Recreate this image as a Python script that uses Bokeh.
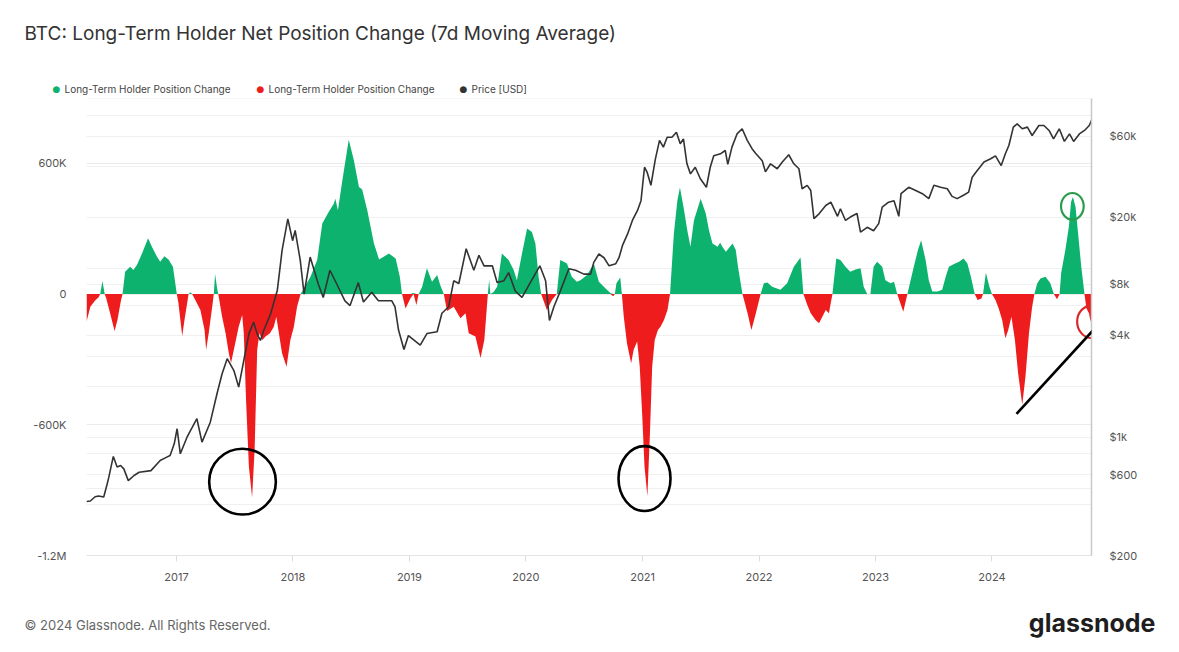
import pandas as pd
from bokeh.plotting import figure
from bokeh.models import (Range1d, LogScale, LogAxis, FixedTicker, Grid, Label,
                          Arrow, ColumnDataSource, DatetimeTickFormatter)
from bokeh.embed import file_html
from bokeh.resources import INLINE

# ---------------- data ----------------
lth_dates = [
    "2016-03-25", "2016-04-06", "2016-04-21", "2016-05-02", "2016-05-07", "2016-05-14", "2016-05-21",
    "2016-05-26", "2016-06-07", "2016-06-21", "2016-06-30", "2016-07-11", "2016-07-16", "2016-07-24",
    "2016-08-09", "2016-08-19", "2016-08-30", "2016-09-15", "2016-10-04", "2016-10-16", "2016-11-01",
    "2016-11-11", "2016-11-24", "2016-12-07", "2016-12-21", "2017-01-02", "2017-01-07", "2017-01-19",
    "2017-01-26", "2017-02-08", "2017-02-14", "2017-02-19", "2017-03-01", "2017-03-17", "2017-03-30",
    "2017-04-04", "2017-04-12", "2017-04-23", "2017-04-28", "2017-05-02", "2017-05-09", "2017-05-12",
    "2017-05-24", "2017-06-04", "2017-06-14", "2017-06-21", "2017-07-02", "2017-07-15", "2017-07-26",
    "2017-07-31", "2017-08-07", "2017-08-16", "2017-08-26", "2017-09-03", "2017-09-11", "2017-09-18",
    "2017-09-27", "2017-10-07", "2017-10-21", "2017-11-02", "2017-11-10", "2017-11-18", "2017-11-28",
    "2017-12-12", "2017-12-24", "2018-01-04", "2018-01-14", "2018-01-25", "2018-02-25", "2018-03-18",
    "2018-04-03", "2018-04-23", "2018-05-09", "2018-05-14", "2018-05-22", "2018-06-05", "2018-06-25",
    "2018-07-11", "2018-07-27", "2018-08-06", "2018-08-22", "2018-09-12", "2018-09-28", "2018-10-29",
    "2018-11-19", "2018-12-02", "2018-12-09", "2018-12-20", "2019-01-04", "2019-01-14", "2019-01-23",
    "2019-01-30", "2019-02-10", "2019-02-25", "2019-03-13", "2019-03-29", "2019-04-08", "2019-04-19",
    "2019-04-29", "2019-05-20", "2019-06-10", "2019-06-26", "2019-07-06", "2019-07-27", "2019-08-12",
    "2019-08-24", "2019-09-04", "2019-09-08", "2019-09-12", "2019-09-22", "2019-10-03", "2019-10-18",
    "2019-11-08", "2019-11-24", "2019-12-04", "2019-12-20", "2020-01-05", "2020-01-20", "2020-01-31",
    "2020-02-10", "2020-02-18", "2020-03-07", "2020-03-23", "2020-04-07", "2020-04-18", "2020-05-09",
    "2020-05-24", "2020-06-09", "2020-06-20", "2020-07-11", "2020-08-01", "2020-08-17", "2020-09-07",
    "2020-09-22", "2020-10-01", "2020-10-06", "2020-10-11", "2020-10-23", "2020-10-28", "2020-11-03",
    "2020-11-13", "2020-11-26", "2020-12-04", "2020-12-15", "2020-12-23", "2020-12-31", "2021-01-07",
    "2021-01-16", "2021-01-24", "2021-01-31", "2021-02-08", "2021-02-18", "2021-02-26", "2021-03-09",
    "2021-03-20", "2021-03-28", "2021-04-09", "2021-04-20", "2021-04-28", "2021-05-11", "2021-05-21",
    "2021-05-31", "2021-06-11", "2021-07-02", "2021-07-18", "2021-07-28", "2021-08-08", "2021-08-24",
    "2021-09-01", "2021-09-08", "2021-09-19", "2021-10-10", "2021-10-20", "2021-10-27", "2021-11-10",
    "2021-11-15", "2021-11-26", "2021-12-08", "2021-12-22", "2022-01-06", "2022-01-16", "2022-01-27",
    "2022-02-11", "2022-03-09", "2022-03-30", "2022-04-20", "2022-05-11", "2022-05-20", "2022-06-01",
    "2022-06-12", "2022-06-27", "2022-07-08", "2022-07-29", "2022-08-08", "2022-08-19", "2022-08-31",
    "2022-09-13", "2022-09-29", "2022-10-14", "2022-10-30", "2022-11-15", "2022-11-25", "2022-12-06",
    "2022-12-16", "2022-12-26", "2023-01-06", "2023-01-22", "2023-02-01", "2023-02-17", "2023-02-28",
    "2023-03-10", "2023-03-29", "2023-04-11", "2023-05-01", "2023-05-14", "2023-05-24", "2023-06-07",
    "2023-06-17", "2023-06-28", "2023-07-14", "2023-07-29", "2023-08-09", "2023-08-19", "2023-09-04",
    "2023-09-20", "2023-10-04", "2023-10-16", "2023-10-27", "2023-11-08", "2023-11-17", "2023-11-29",
    "2023-12-04", "2023-12-13", "2023-12-24", "2024-01-01", "2024-01-12", "2024-01-22", "2024-02-02",
    "2024-02-12", "2024-02-21", "2024-03-02", "2024-03-13", "2024-03-23", "2024-04-05", "2024-04-15",
    "2024-04-26", "2024-05-06", "2024-05-13", "2024-05-22", "2024-06-01", "2024-06-17", "2024-07-02",
    "2024-07-13", "2024-07-23", "2024-07-31", "2024-08-05", "2024-08-18", "2024-08-29", "2024-09-05",
    "2024-09-11", "2024-09-19", "2024-09-26", "2024-10-07", "2024-10-17", "2024-10-23", "2024-10-31",
    "2024-11-05", "2024-11-08",
]
lth_values = [
    -127000, -58000, -30000, -15000, 0, 60000, 0,
    -20000, -88000, -170000, -119000, -30000, 0, 102000,
    125000, 110000, 133000, 186000, 256000, 217000, 171000,
    148000, 174000, 159000, 125000, 0, -40000, -192000,
    -120000, 0, 8000, 0, -27000, -73000, -165000,
    -256000, -180000, -58000, 0, 92000, 20000, 0,
    -104000, -180000, -272000, -316000, -241000, -150000, -96000,
    -180000, -485000, -791000, -934000, -714000, -256000, -180000,
    -211000, -195000, -180000, -150000, -104000, -180000, -272000,
    -334000, -211000, -150000, -58000, 0, 79000, 156000,
    324000, 377000, 415000, 438000, 385000, 522000, 708000,
    614000, 491000, 480000, 385000, 232000, 159000, 186000,
    163000, 80000, 0, -66000, -20000, 5000, -50000,
    0, 34000, 118000, 56000, 87000, 40000, 0,
    -78000, -58000, -111000, -88000, -180000, -195000, -294000,
    -210000, 0, 66000, 0, 10000, 34000, 186000,
    156000, 110000, 64000, 186000, 301000, 285000, 232000,
    79000, 0, -73000, -27000, 0, 156000, 140000,
    79000, 56000, 64000, 87000, 140000, 56000, 25000,
    5000, -10000, 0, 50000, 76000, 0, -104000,
    -226000, -318000, -256000, -218000, -333000, -562000, -791000,
    -928000, -638000, -334000, -211000, -165000, -150000, -119000,
    -73000, 0, 278000, 430000, 489000, 385000, 293000,
    217000, 339000, 438000, 370000, 293000, 232000, 217000,
    235000, 217000, 194000, 232000, 202000, 125000, 0,
    -27000, -88000, -165000, -88000, 0, 50000, 53000,
    34000, 20000, 50000, 125000, 168000, 0, -49000,
    -88000, -119000, -134000, -73000, -88000, 0, 163000,
    156000, 125000, 102000, 113000, 118000, 34000, 0,
    0, 125000, 148000, 125000, 64000, 50000, 56000,
    0, -81000, 0, 125000, 202000, 247000, 156000,
    64000, 12000, 12000, 20000, 80000, 125000, 138000,
    148000, 163000, 140000, 80000, 0, -27000, -20000,
    0, 98000, 34000, 0, -27000, -65000, -119000,
    -203000, -165000, -104000, -211000, -363000, -508000, -379000,
    -180000, -58000, 0, 50000, 72000, 80000, 50000,
    0, -24000, 0, 98000, 202000, 309000, 424000,
    446000, 400000, 293000, 125000, 0, -65000, -88000,
    -127000, -100000,
]

price_dates = [
    "2016-03-25", "2016-04-06", "2016-04-21", "2016-05-02", "2016-05-18", "2016-05-29", "2016-06-03",
    "2016-06-17", "2016-06-29", "2016-07-10", "2016-07-20", "2016-08-03", "2016-08-21", "2016-09-06",
    "2016-10-13", "2016-11-11", "2016-11-30", "2016-12-12", "2016-12-25", "2017-01-03", "2017-01-13",
    "2017-02-03", "2017-03-06", "2017-03-22", "2017-04-17", "2017-05-08", "2017-05-24", "2017-06-09",
    "2017-06-30", "2017-07-15", "2017-07-31", "2017-08-16", "2017-08-31", "2017-09-11", "2017-09-21",
    "2017-10-02", "2017-10-23", "2017-11-13", "2017-11-28", "2017-12-16", "2017-12-31", "2018-01-08",
    "2018-01-24", "2018-02-05", "2018-02-24", "2018-03-22", "2018-04-06", "2018-04-27", "2018-05-18",
    "2018-06-13", "2018-06-29", "2018-07-25", "2018-08-10", "2018-09-05", "2018-09-26", "2018-11-07",
    "2018-11-17", "2018-11-28", "2018-12-15", "2018-12-29", "2019-02-04", "2019-02-25", "2019-03-29",
    "2019-04-13", "2019-05-04", "2019-05-20", "2019-06-05", "2019-06-28", "2019-07-22", "2019-08-07",
    "2019-08-23", "2019-09-18", "2019-10-03", "2019-10-24", "2019-11-08", "2019-11-29", "2019-12-20",
    "2020-01-15", "2020-02-14", "2020-03-03", "2020-03-15", "2020-03-29", "2020-04-18", "2020-05-15",
    "2020-06-05", "2020-07-01", "2020-07-22", "2020-08-01", "2020-08-17", "2020-09-02", "2020-09-18",
    "2020-10-09", "2020-10-19", "2020-10-30", "2020-11-15", "2020-11-30", "2020-12-16", "2020-12-27",
    "2021-01-07", "2021-01-15", "2021-01-27", "2021-02-10", "2021-02-23", "2021-03-07", "2021-03-19",
    "2021-04-03", "2021-04-17", "2021-04-29", "2021-05-09", "2021-05-20", "2021-05-31", "2021-06-15",
    "2021-07-01", "2021-07-20", "2021-08-01", "2021-08-12", "2021-09-02", "2021-09-17", "2021-09-25",
    "2021-10-08", "2021-10-24", "2021-11-09", "2021-11-25", "2021-12-10", "2021-12-21", "2022-01-11",
    "2022-01-21", "2022-02-06", "2022-02-27", "2022-03-15", "2022-04-04", "2022-04-20", "2022-05-06",
    "2022-05-16", "2022-06-01", "2022-06-12", "2022-06-22", "2022-07-08", "2022-07-29", "2022-08-14",
    "2022-09-04", "2022-09-13", "2022-09-29", "2022-10-14", "2022-11-04", "2022-11-15", "2022-12-06",
    "2022-12-26", "2023-01-11", "2023-01-22", "2023-02-11", "2023-02-28", "2023-03-15", "2023-03-22",
    "2023-04-15", "2023-05-07", "2023-05-28", "2023-06-17", "2023-07-03", "2023-07-24", "2023-08-14",
    "2023-08-29", "2023-09-14", "2023-10-05", "2023-10-20", "2023-10-31", "2023-11-16", "2023-12-07",
    "2023-12-28", "2024-01-12", "2024-01-30", "2024-02-12", "2024-02-23", "2024-03-08", "2024-03-20",
    "2024-04-05", "2024-04-21", "2024-05-06", "2024-05-27", "2024-06-12", "2024-06-28", "2024-07-12",
    "2024-07-30", "2024-08-15", "2024-08-31", "2024-09-13", "2024-10-01", "2024-10-17", "2024-11-01",
    "2024-11-08",
]
price_values = [
    417, 420, 445, 450, 443, 531, 581,
    770, 666, 680, 650, 554, 594, 621,
    635, 728, 760, 780, 914, 1122, 798,
    1000, 1286, 935, 1227, 1806, 2371, 2910,
    2478, 1977, 2840, 4080, 4786, 4080, 3730,
    4300, 5360, 7360, 12700, 19500, 14500, 16700,
    11100, 7000, 11600, 8000, 6700, 9700, 8070,
    6400, 6000, 8200, 6300, 7200, 6400, 6400,
    5900, 4300, 3300, 3990, 3500, 4100, 4200,
    5400, 5900, 8400, 8100, 13000, 9700, 11900,
    10300, 10300, 8200, 8400, 9400, 7300, 6700,
    8200, 10300, 8400, 4900, 5900, 7300, 9900,
    9700, 9200, 9200, 10800, 12100, 11500, 10300,
    10600, 11500, 13600, 15900, 19100, 21900, 25000,
    39400, 36900, 30800, 44000, 56800, 51800, 59300,
    59300, 63500, 54200, 58000, 41300, 36000, 39400,
    33700, 30000, 39400, 46000, 47300, 49500, 41000,
    51800, 62000, 66500, 56800, 50700, 47700, 43000,
    37000, 41300, 38600, 42300, 46700, 41300, 38600,
    29400, 30800, 28700, 19600, 20900, 23400, 24500,
    20200, 22400, 19100, 20000, 21000, 16300, 17400,
    16600, 18300, 22900, 24500, 25000, 20200, 27500,
    30000, 28700, 27500, 25700, 30800, 30000, 29400,
    26500, 25700, 27000, 28100, 34400, 37700, 42300,
    44200, 46000, 40300, 47300, 53000, 68000, 71100,
    66500, 68000, 60700, 69500, 69500, 65000, 58000,
    66500, 56000, 62000, 56000, 62000, 65000, 69500,
    74500,
]

year_ticks = [2017, 2018, 2019, 2020, 2021, 2022, 2023, 2024]
left_ticks = [-1200000, -600000, 0, 600000]
left_labels = ["-1.2M", "-600K", "0", "600K"]
price_ticks = [200, 600, 1000, 4000, 8000, 20000, 60000]
price_labels = ["$200", "$600", "$1k", "$4k", "$8k", "$20k", "$60k"]
price_grid = [400, 500, 600, 800, 1000, 2000, 3000, 4000, 6000, 8000, 10000,
              20000, 40000, 60000, 80000, 100000]

legend_names = ["Long-Term Holder Position Change", "Long-Term Holder Position Change", "Price [USD]"]

# hand-drawn highlight rings and trend stroke (annotations, in data space)
ring_dates = ["2017-07-27", "2021-01-07", "2024-09-09", "2024-11-10"]
ring_values = [-861000, -847000, 403000, -127000]
ring_width_days = [209, 163, 71, 94]
ring_heights = [302000, 298000, 122000, 151000]
trend_dates = ["2024-03-18", "2025-01-16"]
trend_values = [-550000, -64000]

# ---------------- styling ----------------
GREEN = "#0db26f"
RED = "#ee1c1c"
DARK = "#333333"
FONT = "Inter"
DAY_MS = 86400000

W, H = 1179, 652
p = figure(width=W, height=H, x_axis_type="datetime", output_backend="svg",
           toolbar_location=None,
           x_range=Range1d(pd.Timestamp("2016-03-25"), pd.Timestamp("2024-11-08")),
           y_range=Range1d(-1200000, 897700),
           min_border_left=86, min_border_right=88, min_border_top=98, min_border_bottom=97)
p.outline_line_color = None
p.background_fill_color = "white"
p.border_fill_color = "white"

p.extra_y_ranges = {"price": Range1d(200, 100400)}
p.extra_y_scales = {"price": LogScale()}

# grids
p.xgrid.grid_line_color = None
p.ygrid[0].ticker = FixedTicker(ticks=left_ticks)
p.ygrid[0].grid_line_color = "#ececec"
p.add_layout(Grid(dimension=1, y_range_name="price", ticker=FixedTicker(ticks=price_grid),
                  grid_line_color="#f0f0f0"))

# left axis
ya = p.yaxis[0]
ya.ticker = FixedTicker(ticks=left_ticks)
ya.major_label_overrides = {t: l for t, l in zip(left_ticks, left_labels)}
ya.axis_line_color = None
ya.major_tick_line_color = None
ya.minor_tick_line_color = None
ya.major_label_text_color = "#555555"
ya.major_label_text_font = FONT
ya.major_label_text_font_size = "11px"
ya.major_label_text_baseline = "bottom"
ya.major_label_standoff = 14

# right axis (log price)
ra = LogAxis(y_range_name="price", ticker=FixedTicker(ticks=price_ticks),
             major_label_overrides={t: l for t, l in zip(price_ticks, price_labels)})
ra.axis_line_color = "#c8c8c8"
ra.axis_line_width = 1.5
ra.major_tick_line_color = None
ra.minor_tick_line_color = None
ra.major_label_text_color = "#555555"
ra.major_label_text_font = FONT
ra.major_label_text_font_size = "11px"
ra.major_label_text_baseline = "bottom"
ra.major_label_standoff = 12
p.add_layout(ra, "right")

# bottom axis
xa = p.xaxis[0]
xa.ticker = FixedTicker(ticks=[pd.Timestamp(f"{y}-01-01").value / 1e6 for y in year_ticks])
fmt = "%Y"
xa.formatter = DatetimeTickFormatter(years=fmt, months=fmt, days=fmt, hours=fmt,
                                     minutes=fmt, seconds=fmt, milliseconds=fmt,
                                     microseconds=fmt, hourmin=fmt, minsec=fmt)
xa.axis_line_color = "#e3e3e3"
xa.major_tick_line_color = "#dddddd"
xa.major_tick_in = 0
xa.major_tick_out = 6
xa.minor_tick_line_color = None
xa.major_label_text_color = "#555555"
xa.major_label_text_font = FONT
xa.major_label_text_font_size = "11px"
xa.major_label_standoff = 11

# ---------------- marks ----------------
src = ColumnDataSource(dict(
    x=pd.to_datetime(lth_dates),
    pos=[max(v, 0) for v in lth_values],
    neg=[min(v, 0) for v in lth_values],
))
p.varea(x="x", y1=0, y2="pos", source=src, fill_color=GREEN)
p.varea(x="x", y1=0, y2="neg", source=src, fill_color=RED)

p.line(pd.to_datetime(price_dates), price_values, y_range_name="price",
       line_color=DARK, line_width=1.6)

# highlight rings
ring_src = ColumnDataSource(dict(
    x=pd.to_datetime(ring_dates),
    y=ring_values,
    w=[d * DAY_MS for d in ring_width_days],
    h=ring_heights,
    c=["#000000", "#000000", "#2b9c4c", "#d9272b"],
    lw=[2.6, 2.6, 2.2, 2.2],
))
p.ellipse(x="x", y="y", width="w", height="h", source=ring_src,
          fill_color=None, line_color="c", line_width="lw")

td = pd.to_datetime(trend_dates)
p.add_layout(Arrow(end=None, x_start=td[0].value / 1e6, y_start=trend_values[0],
                   x_end=td[1].value / 1e6, y_end=trend_values[1],
                   line_color="black", line_width=2.6))


# ---------------- texts (canvas-positioned labels living in the side panels) ----------------
def canvas_label(text, x, y, size, color, align="left", font=FONT, style="normal"):
    return Label(x=x, y=y, x_units="canvas", y_units="canvas", text=text,
                 text_font=font, text_font_size=size, text_color=color,
                 text_font_style=style, text_baseline="middle", text_align=align)


p.add_layout(canvas_label("BTC: Long-Term Holder Net Position Change (7d Moving Average)",
                          24, 33, "19px", "#333333"), "above")

leg_colors = [GREEN, RED, DARK]
leg_x = [56, 260, 463]
for name, col, lx0 in zip(legend_names, leg_colors, leg_x):
    p.add_layout(canvas_label(name, lx0 + 8, 88, "10px", "#444444"), "above")
    p.add_layout(canvas_label("\u25cf", lx0, 88, "9px", col, align="center",
                              font="DejaVu Sans"), "left")

p.add_layout(canvas_label("\u00a9 2024 Glassnode. All Rights Reserved.", 24, 624,
                          "13px", "#666666"), "below")
p.add_layout(canvas_label("glassnode", 1155, 622, "25px", "#1e1e1e", align="right",
                          style="bold"), "below")

open("out.html", "w").write(file_html(p, INLINE))
